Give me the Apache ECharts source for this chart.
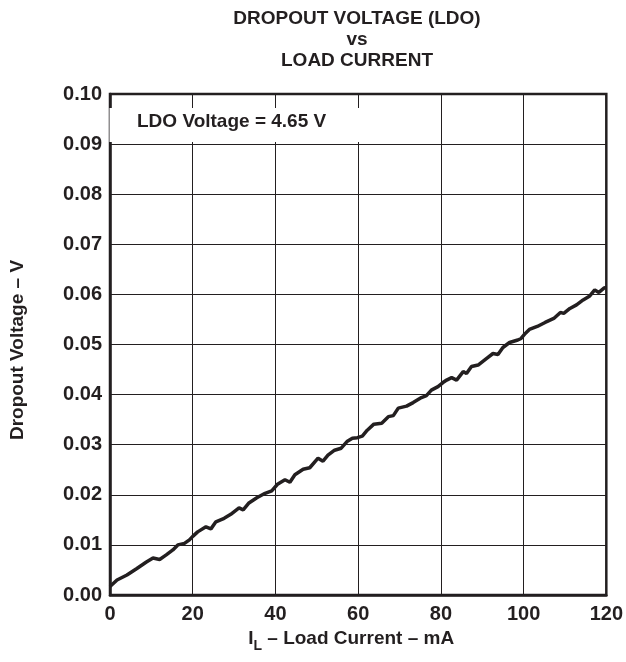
<!DOCTYPE html>
<html>
<head>
<meta charset="utf-8">
<script src="https://cdn.jsdelivr.net/npm/echarts@6/dist/echarts.min.js"></script>
<style>
html,body{margin:0;padding:0;background:#fff;}
#chart{width:626px;height:662px;}
</style>
</head>
<body>
<div id="chart"></div>
<script>
const loadCurrent = [0,1.7,4.1,6.5,8.8,10.4,12.0,13.6,15.2,16.4,18.0,19.2,20.0,21.2,23.2,24.4,25.6,27.6,29.2,31.2,32.2,33.5,35.5,37.5,39.1,40.5,42.3,43.5,44.7,46.7,48.3,50.3,51.5,52.7,54.3,55.9,57.4,58.6,59.8,61.0,62.2,63.8,65.7,67.3,68.5,69.7,71.7,73.3,75.3,76.5,77.7,79.3,80.5,81.4,82.6,83.8,85.4,86.2,87.4,89.0,91.0,92.6,93.8,95.0,96.6,98.6,99.4,100.4,101.4,103.3,105.2,107.3,108.9,109.7,111.2,112.8,114.4,116.0,117.2,118.2,119.5,120];
const dropout = [0.0017,0.0030,0.0040,0.0053,0.0066,0.0074,0.0071,0.0080,0.0090,0.0100,0.0103,0.0110,0.0117,0.0126,0.0136,0.0132,0.0146,0.0153,0.0161,0.0174,0.0170,0.0183,0.0194,0.0203,0.0208,0.0221,0.0230,0.0225,0.0240,0.0251,0.0254,0.0273,0.0267,0.0279,0.0289,0.0293,0.0307,0.0313,0.0314,0.0317,0.0329,0.0341,0.0343,0.0356,0.0358,0.0373,0.0377,0.0384,0.0394,0.0398,0.0409,0.0416,0.0424,0.0429,0.0434,0.0429,0.0446,0.0442,0.0456,0.0459,0.0472,0.0482,0.0480,0.0494,0.0504,0.0509,0.0512,0.0522,0.0530,0.0536,0.0544,0.0552,0.0564,0.0562,0.0572,0.0579,0.0589,0.0597,0.0609,0.0604,0.0613,0.0614];
const xTicks = [0,20,40,60,80,100,120];
const yTicks = [0,0.01,0.02,0.03,0.04,0.05,0.06,0.07,0.08,0.09,0.10];
const titleLines = ['DROPOUT VOLTAGE (LDO)','vs','LOAD CURRENT'];
const noteText = 'LDO Voltage = 4.65 V';

const INK = '#231f20';
const FONT = '"Liberation Sans", Arial, Helvetica, sans-serif';
const chart = echarts.init(document.getElementById('chart'), null, {renderer:'canvas'});
const pts = loadCurrent.map((x,i)=>[x, dropout[i]]);
chart.setOption({
  animation:false,
  backgroundColor:'#fff',
  title:{
    text: titleLines.join('\n'),
    left: 357, top: 8, padding:0, textAlign:'center',
    textStyle:{fontFamily:FONT, fontWeight:'bold', fontSize:19, color:INK, lineHeight:21}
  },
  grid:{left:108, right:16, top:94, bottom:67, show:true, borderColor:INK, borderWidth:2.5, backgroundColor:'transparent'},
  xAxis:{
    type:'value', min:xTicks[0], max:xTicks[xTicks.length-1], interval:20,
    axisLine:{show:true, lineStyle:{color:INK, width:2.5}},
    axisTick:{show:false},
    splitLine:{show:true, lineStyle:{color:INK, width:1}},
    axisLabel:{margin:9, color:INK, fontFamily:FONT, fontWeight:'bold', fontSize:20},
    name:'{a|I}{s|L}{a| – Load Current – mA}', nameLocation:'middle', nameGap:36,
    nameTextStyle:{padding:[0,14,0,0], rich:{
      a:{fontFamily:FONT, fontWeight:'bold', fontSize:19, color:INK, lineHeight:22, verticalAlign:'bottom', padding:[0,0,5,0]},
      s:{fontFamily:FONT, fontWeight:'bold', fontSize:14, color:INK, lineHeight:17, verticalAlign:'bottom'}
    }}
  },
  yAxis:{
    type:'value', min:yTicks[0], max:yTicks[yTicks.length-1], interval:0.01,
    axisLine:{show:true, lineStyle:{color:INK, width:2.5}},
    axisTick:{show:false},
    splitLine:{show:true, lineStyle:{color:INK, width:1}},
    axisLabel:{margin:8, color:INK, fontFamily:FONT, fontWeight:'bold', fontSize:20, formatter:v=>v.toFixed(2)},
    name:'Dropout Voltage – V', nameLocation:'middle', nameGap:83, nameRotate:90,
    nameTextStyle:{fontFamily:FONT, fontWeight:'bold', fontSize:19, color:INK, padding:[0,11,0,0]}
  },
  graphic:[{
    type:'rect', left:109.5, top:108, z:50,
    shape:{width:260, height:34}, style:{fill:'#fff'}
  },{
    type:'text', left:137, top:112, z:51,
    style:{text:noteText, font:'bold 19px '+FONT, fill:INK}
  }],
  series:[{
    type:'line', data:pts, showSymbol:false, symbol:'none', smooth:false,
    lineStyle:{color:INK, width:3.5}, z:10
  }]
});
</script>
</body>
</html>
